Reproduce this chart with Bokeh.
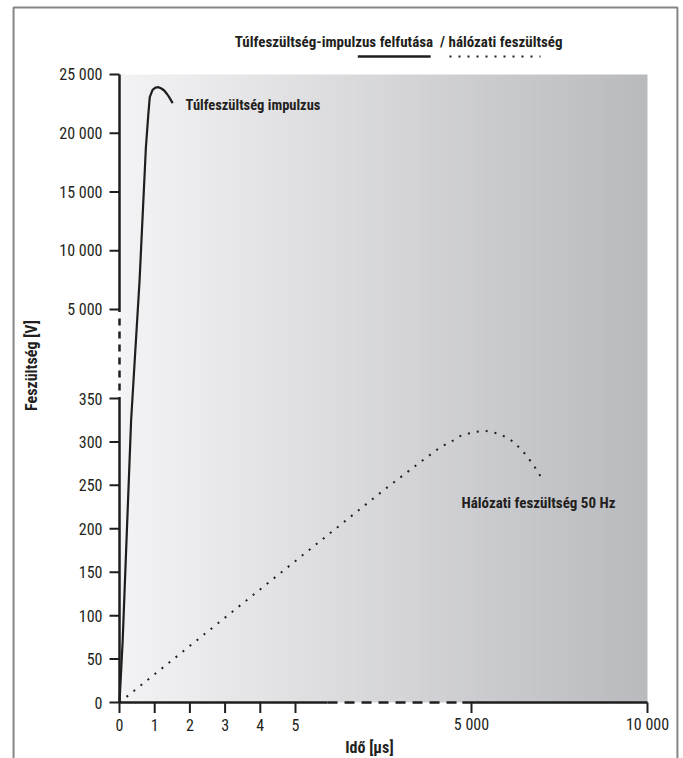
import numpy as np
from bokeh.plotting import figure
from bokeh.models import Range1d
from bokeh.core.properties import value
from bokeh.embed import file_html
from bokeh.resources import INLINE

# ---------------- data ----------------
X_TICK_VALUES = [0, 1, 2, 3, 4, 5, 5000, 10000]          # time, µs
X_TICK_LABELS = ["0", "1", "2", "3", "4", "5", "5 000", "10 000"]
Y_TICK_VALUES = [0, 50, 100, 150, 200, 250, 300, 350, 5000, 10000, 15000, 20000, 25000]  # V
Y_TICK_LABELS = ["0", "50", "100", "150", "200", "250", "300", "350",
                 "5 000", "10 000", "15 000", "20 000", "25 000"]

# surge impulse rise (µs, V)
IMPULSE_T = [0, 0.09, 0.33, 0.57, 0.75, 0.82, 0.86, 0.94, 1.02, 1.11, 1.19, 1.27, 1.35, 1.41, 1.51]
IMPULSE_V = [0, 71, 325, 7470, 18810, 21650, 23070, 23700, 23890, 23920, 23810, 23640, 23340, 23070, 22560]

# mains voltage 50 Hz (µs, V)
MAINS_T = [0, 5, 2493, 3553, 4120, 4497, 4688, 5028, 5369, 5824, 6202, 6506, 6770, 7026]
MAINS_V = [0, 163, 244, 277, 294, 302, 307, 311, 313, 309, 300, 287, 273, 256]

TITLE = "Túlfeszültség-impulzus felfutása\u00a0 / hálózati feszültség"
X_TITLE = "Idő [µs]"
Y_TITLE = "Feszültség [V]"
IMPULSE_NAME = "Túlfeszültség impulzus"
MAINS_NAME = "Hálózati feszültség 50 Hz"

# broken-axis scales (data value -> axis coordinate)
X_BREAK_DATA = [0, 5, 5000, 10000]
X_BREAK_AXIS = [0, 5, 10, 15]
Y_BREAK_DATA = [0, 350, 5000, 25000]
Y_BREAK_AXIS = [0, 304, 393, 628]


def xmap(t):
    return np.interp(np.asarray(t, dtype=float), X_BREAK_DATA, X_BREAK_AXIS)


def ymap(v):
    return np.interp(np.asarray(v, dtype=float), Y_BREAK_DATA, Y_BREAK_AXIS)


FONT = "'Roboto Condensed', Roboto, sans-serif"
INK = "#1e1e1e"
TXT = "#231f20"
PX = 35.2  # pixels per x axis unit
W, H = 683, 758
X0, Y0 = 119, 702  # where the axes meet, in canvas pixels

p = figure(width=W, height=H, title=None,
           x_range=Range1d(-X0 / PX, (W - X0) / PX), y_range=Range1d(Y0 - H, Y0),
           x_axis_location=None, y_axis_location=None,
           output_backend="svg", toolbar_location=None, min_border=0)
p.outline_line_color = None
p.grid.visible = False
p.background_fill_color = "white"
p.border_fill_color = "white"

# gradient background of the plot area
N = 256
frac = np.linspace(0, 1, N)
c0 = np.array([243, 243, 245])
c1 = np.array([185, 186, 190])
img = np.empty((1, N), dtype=np.uint32)
view = img.view(dtype=np.uint8).reshape((1, N, 4))
for k in range(3):
    view[0, :, k] = np.round(c0[k] + (c1[k] - c0[k]) * frac).astype(np.uint8)
view[0, :, 3] = 255
p.image_rgba(image=[img], x=0, y=0, dw=float(xmap(10000)), dh=float(ymap(25000)))

# ---- broken axes ----
xt = xmap(X_TICK_VALUES)
yt = ymap(Y_TICK_VALUES)
# y axis line: solid / dashed break / solid
p.line([0, 0], [float(ymap(25000)), 390.5], line_color=INK, line_width=2.5)
p.line([0, 0], [384, 312], line_color=INK, line_width=2.5, line_dash="7 6")
p.line([0, 0], [305.5, 0], line_color=INK, line_width=2.5)
# x axis line: solid / dashed break / solid
p.line([0, 5.91], [0, 0], line_color=INK, line_width=2.5)
p.line([5.91, 9.63], [0, 0], line_color=INK, line_width=2.5, line_dash="10 7")
p.line([9.74, float(xmap(10000))], [0, 0], line_color=INK, line_width=2.5)
# ticks
p.segment(x0=np.full(len(yt), -10 / PX), y0=yt, x1=np.zeros(len(yt)), y1=yt,
          line_color=INK, line_width=2)
p.segment(x0=xt, y0=np.zeros(len(xt)), x1=xt, y1=np.full(len(xt), -10.5),
          line_color=INK, line_width=2)
# tick labels
p.text(x=np.full(len(yt), -17 / PX), y=yt, text=Y_TICK_LABELS, text_font=value(FONT),
       text_font_size="16px", text_color=TXT, text_align="right", text_baseline="middle")
p.text(x=xt, y=np.full(len(xt), -22), text=X_TICK_LABELS, text_font=value(FONT),
       text_font_size="16px", text_color=TXT, text_align="center", text_baseline="middle")

# ---- curves ----
p.line(xmap(IMPULSE_T), ymap(IMPULSE_V), line_width=2.2, line_color=INK, line_join="round")
p.line(xmap(MAINS_T), ymap(MAINS_V), line_width=2, line_color=INK, line_dash="2 7")

# legend samples under the heading
p.line([6.77, 8.84], [646, 646], line_width=2.6, line_color=INK)
p.line([9.375, 11.96], [646, 646], line_width=2, line_color=INK, line_dash="2 7")

# ---- texts ----
def lab(x, y, text, size="15px", style="bold", align="left", baseline="middle", angle=0.0):
    p.text(x=[x], y=[y], text=[text], text_font=value(FONT), text_font_size=size,
           text_font_style=style, text_align=align, text_baseline=baseline,
           text_color=TXT, angle=angle)

lab(7.93, 661, TITLE, align="center")
lab(1.875, 597, IMPULSE_NAME, size="14.5px")
lab(9.716, 200, MAINS_NAME)
lab(-2.49, 337, Y_TITLE, size="16px", align="center", angle=np.pi / 2)
lab(7.10, -45, X_TITLE, size="16px", align="center")

# outer frame of the figure
p.line([-3.01, -3.01, 15.85, 15.85], [-70, 695, 695, -70], line_color="#858585", line_width=2)

open("out.html", "w").write(file_html(p, INLINE))
